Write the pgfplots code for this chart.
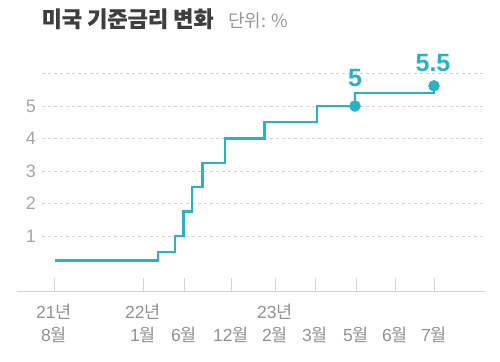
\documentclass[border=0pt]{standalone}
\usepackage{pgfplots}
\pgfplotsset{compat=1.18}
\usepackage{fontspec}
\setmainfont{Noto Sans CJK KR}
\newfontfamily\titlefont[BoldFeatures={FakeBold=0.5}]{Noto Sans CJK KR}
\newfontfamily\lib{Liberation Sans}
\definecolor{teal1}{RGB}{40,179,197}
\definecolor{titlec}{RGB}{62,62,62}
\definecolor{unitc}{RGB}{150,150,150}
\definecolor{tickc}{RGB}{145,145,145}
\definecolor{ytickc}{RGB}{165,165,165}
\definecolor{gridc}{RGB}{212,212,212}
\begin{document}
\begin{tikzpicture}
\begin{axis}[
  scale only axis,
  width=468pt, height=218.5pt,
  xmin=17, xmax=485, ymin=-0.723, ymax=6,
  clip=false,
  axis x line=bottom, axis y line=left,
  x axis line style={-, draw=gridc, line width=1pt},
  y axis line style={draw=none},
  /pgf/number format/assume math mode=true,
  xtick={54,143,184,231,275,315,356,395,434},
  xticklabels={{{\lib 21}년\\{\lib 8}월},{{\lib 22}년\\{\lib 1}월},{\phantom{22년}\\{\lib 6}월},{\phantom{22년}\\{\lib 12}월},{{\lib 23}년\\{\lib 2}월},{\phantom{22년}\\{\lib 3}월},{\phantom{22년}\\{\lib 5}월},{\phantom{22년}\\{\lib 6}월},{\phantom{22년}\\{\lib 7}월}},
  xticklabel style={align=center, text=tickc, font=\fontsize{17.5}{23}\selectfont, yshift=-9pt},
  tick align=inside, major tick length=14pt,
  xtick style={draw=gridc, line width=0.8pt},
  ytick={1,2,3,4,5},
  yticklabels={1,2,3,4,5},
  ytick style={draw=none},
  yticklabel style={anchor=center, xshift=14pt, text=ytickc, font=\fontsize{18}{22}\selectfont\lib},
]
\path (axis cs:0,8.2615) rectangle (axis cs:500,-2.8769);
\node[anchor=base west, inner sep=0, text=titlec, font=\fontsize{22}{26}\selectfont\titlefont\bfseries] at (axis cs:41.5,7.43) {미국 기준금리 변화};
\node[anchor=base west, inner sep=0, text=unitc, font=\fontsize{18}{22}\selectfont] at (axis cs:228,7.43) {단위: \%};
\draw[gridc, dash pattern=on 3pt off 3pt, line width=0.9pt] (axis cs:42,1) -- (axis cs:485,1);
\draw[gridc, dash pattern=on 3pt off 3pt, line width=0.9pt] (axis cs:42,2) -- (axis cs:485,2);
\draw[gridc, dash pattern=on 3pt off 3pt, line width=0.9pt] (axis cs:42,3) -- (axis cs:485,3);
\draw[gridc, dash pattern=on 3pt off 3pt, line width=0.9pt] (axis cs:42,4) -- (axis cs:485,4);
\draw[gridc, dash pattern=on 3pt off 3pt, line width=0.9pt] (axis cs:42,5) -- (axis cs:485,5);
\draw[gridc, dash pattern=on 3pt off 3pt, line width=0.9pt] (axis cs:42,6) -- (axis cs:485,6);
\addplot[const plot, teal1, line width=2.4pt, no marks] coordinates {
  (55,0.25) (158,0.5) (175,1.0) (183.3,1.75) (191.7,2.5) (202.3,3.25)
  (225,4.0) (264.3,4.5) (316.7,5.0) (355,5.4) (434,5.62)
};
\addplot[only marks, mark=*, mark size=5.5pt, teal1] coordinates {(355,5) (434,5.62)};
\node[text=teal1, font=\fontsize{25}{28}\selectfont\lib\bfseries] at (axis cs:355,5.86) {5};
\node[text=teal1, font=\fontsize{25}{28}\selectfont\lib\bfseries] at (axis cs:433,6.32) {5.5};
\end{axis}
\end{tikzpicture}
\end{document}
